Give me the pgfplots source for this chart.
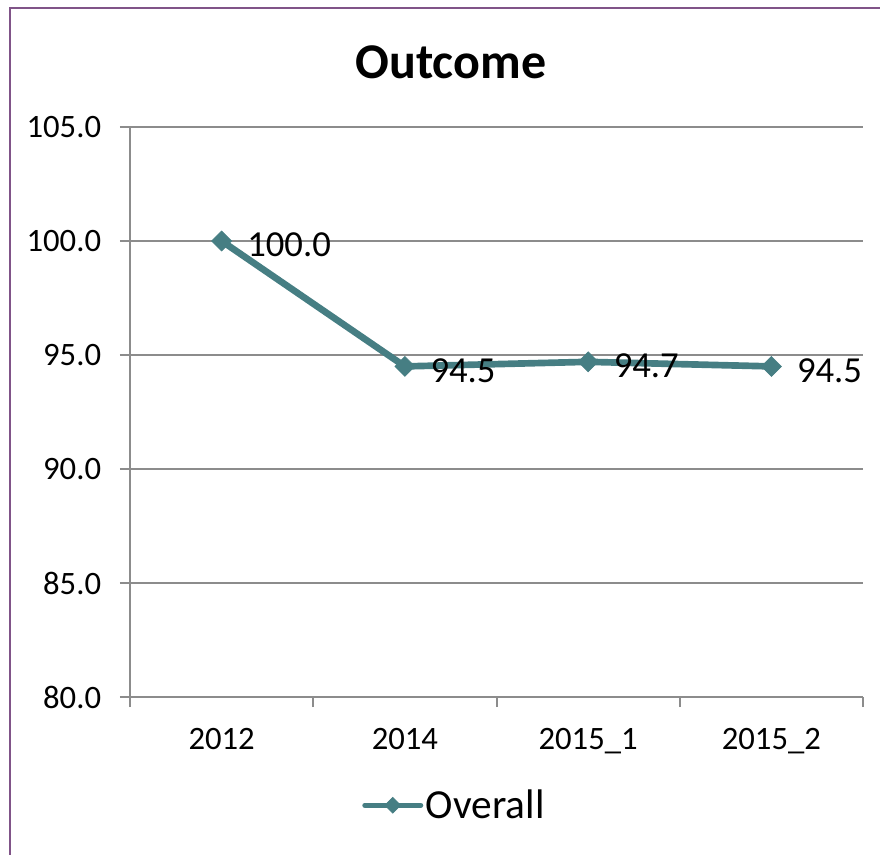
\documentclass[border=0pt]{standalone}
\usepackage{pgfplots}
\pgfplotsset{compat=1.18}
\usepackage{fontspec}
\setmainfont{Carlito}
\definecolor{lineteal}{RGB}{70,126,131}
\definecolor{gridgray}{RGB}{140,140,140}
\definecolor{framepurple}{RGB}{128,84,136}
\begin{document}
\begin{tikzpicture}
\useasboundingbox (0,0) rectangle (660pt,640.5pt);
% outer chart frame (left and top edges)
\draw[framepurple, line width=1.5pt] (7.5pt,-1pt) -- (7.5pt,634.5pt) -- (661pt,634.5pt);
% title
\node[font=\fontsize{37.5}{40}\selectfont\bfseries] at (338.25pt,594pt) {Outcome};
\begin{axis}[
  at={(97.5pt,117.75pt)}, anchor=south west,
  scale only axis, width=549.75pt, height=427.5pt,
  xmin=-0.5, xmax=3.5, ymin=80, ymax=105,
  axis lines*=left,
  axis line style={gridgray, line width=1.5pt},
  xtick={0,1,2,3},
  xticklabels={2012,2014,2015\_1,2015\_2},
  minor xtick={-0.5,0.5,1.5,2.5,3.5},
  ytick={80,85,90,95,100,105},
  yticklabel={\pgfmathprintnumber[fixed,fixed zerofill,precision=1]{\tick}},
  /pgf/number format/assume math mode=true,
  ymajorgrids,
  major grid style={gridgray, line width=1.5pt},
  major x tick style={draw=none},
  major y tick style={gridgray, line width=1.5pt},
  minor x tick style={gridgray, line width=1.5pt},
  tick align=outside,
  major tick length=7.5pt,
  minor tick length=7.5pt,
  ticklabel style={font=\fontsize{24.5}{27}\selectfont, inner sep=0pt},
  yticklabel style={anchor=east, xshift=-14pt},
  xticklabel style={anchor=north, yshift=-16pt},
  nodes near coords,
  nodes near coords={\pgfmathprintnumber[fixed,fixed zerofill,precision=1]{\pgfplotspointmeta}},
  nodes near coords style={anchor=west, inner sep=0pt, xshift=19pt, yshift=-3pt,
    font=\fontsize{27.5}{30}\selectfont, text=black},
  legend style={at={(0.443,-0.19)}, anchor=center, draw=none, fill=none,
    font=\fontsize{31}{34}\selectfont, inner sep=0pt},
  legend image code/.code={
    \draw[#1, line width=3.75pt, line cap=round, mark repeat=2, mark phase=2, mark size=4.2pt]
      plot coordinates {(0pt,0pt) (21pt,0pt) (42pt,0pt)};
  },
  clip=false,
]
\addplot[lineteal, line width=5pt,
  mark=square*, mark size=5.3pt,
  mark options={solid, rotate=45, fill=lineteal, draw=lineteal, line width=0.5pt}]
  coordinates {(0,100.0) (1,94.5) (2,94.7) (3,94.5)};
\addlegendentry{Overall}
\end{axis}
\end{tikzpicture}
\end{document}
